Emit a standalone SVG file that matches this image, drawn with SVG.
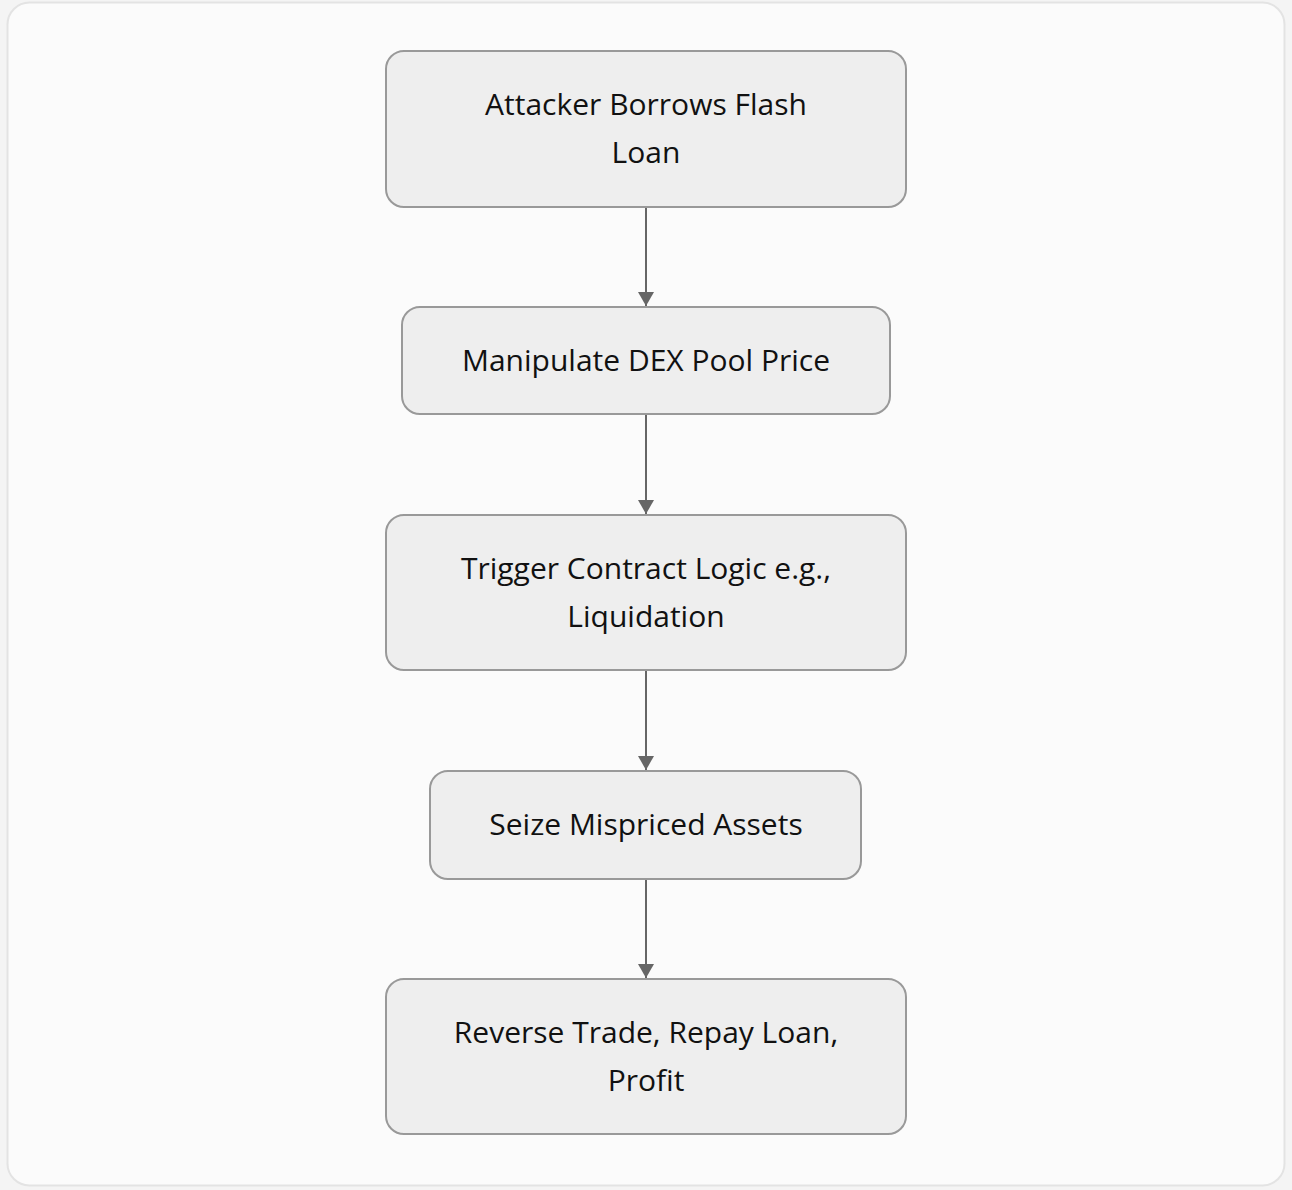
<svg xmlns="http://www.w3.org/2000/svg" width="1292" height="1190" viewBox="0 0 1292 1190">
<defs>
<style>
.node rect{fill:#eeeeee;stroke:#999999;stroke-width:2}
.node text{font-family:"Open Sans","Liberation Sans",Arial,sans-serif;font-size:30px;fill:#111111;text-anchor:middle;dominant-baseline:central}
.edge{stroke:#666666;stroke-width:2;fill:none}
</style>
<marker id="arr" viewBox="0 0 14 16" refX="14" refY="8" markerWidth="14" markerHeight="16" markerUnits="userSpaceOnUse" orient="auto">
<path d="M0,0 L14,8 L0,16 Z" fill="#666666"/>
</marker>
</defs>
<rect x="0" y="0" width="1292" height="1190" fill="#f4f4f4"/>
<rect x="7.5" y="2.5" width="1277" height="1183" rx="22" fill="#fbfbfb" stroke="#e3e3e3" stroke-width="2"/>
<g id="connectors">
<path class="edge" d="M646,207 L646,306" marker-end="url(#arr)"/>
<path class="edge" d="M646,414 L646,514" marker-end="url(#arr)"/>
<path class="edge" d="M646,670 L646,770" marker-end="url(#arr)"/>
<path class="edge" d="M646,879 L646,978" marker-end="url(#arr)"/>
</g>
<g id="n1" class="node">
<rect x="386" y="51" width="520" height="156" rx="18"/>
<text x="646" y="103">Attacker Borrows Flash</text>
<text x="646" y="151">Loan</text>
</g>
<g id="n2" class="node">
<rect x="402" y="307" width="488" height="107" rx="18"/>
<text x="646" y="359">Manipulate DEX Pool Price</text>
</g>
<g id="n3" class="node">
<rect x="386" y="515" width="520" height="155" rx="18"/>
<text x="646" y="567">Trigger Contract Logic e.g.,</text>
<text x="646" y="615">Liquidation</text>
</g>
<g id="n4" class="node">
<rect x="430" y="771" width="431" height="108" rx="18"/>
<text x="646" y="823">Seize Mispriced Assets</text>
</g>
<g id="n5" class="node">
<rect x="386" y="979" width="520" height="155" rx="18"/>
<text x="646" y="1031">Reverse Trade, Repay Loan,</text>
<text x="646" y="1079">Profit</text>
</g>
</svg>
